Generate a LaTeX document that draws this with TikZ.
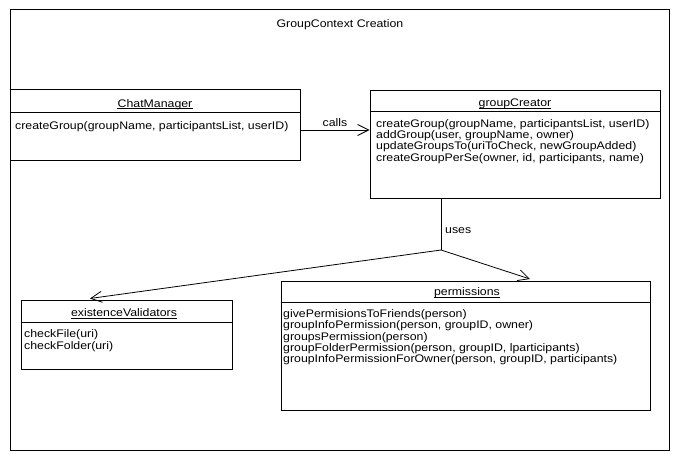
\documentclass[tikz,border=0pt]{standalone}
\usepackage{fontspec}
\setmainfont[FakeStretch=1.12]{Liberation Sans}
\usetikzlibrary{arrows.meta}
\begin{document}
\begin{tikzpicture}[x=1pt,y=-1pt,
  umlbox/.style={draw=black, line width=1pt, fill=white, inner sep=0pt, rectangle},
  txt/.style={inner sep=0pt, font=\fontsize{11}{12}\selectfont, text height=9pt, text depth=2pt},
  mtxt/.style={txt, anchor=west, yshift=-1pt},
  sep/.style={draw=black, line width=1pt},
  uline/.style={draw=black, line width=0.9pt},
  dep/.style={draw=black, line width=0.8pt, -{Straight Barb[length=11pt,width=11pt,line width=0.8pt]}},
  plain/.style={draw=black, line width=0.8pt}]
\path[use as bounding box, fill=white] (0,0) rectangle (678,460);
\node[draw=black, line width=1pt, inner sep=0pt, minimum width=659pt, minimum height=440pt] (frame) at (339.5,230) {};
\node[txt] (title) at (340,24) {GroupContext Creation};

% ChatManager
\node[umlbox, minimum width=290pt, minimum height=70pt] (chat) at (155,125) {};
\draw[sep] (chat.west |- 0,113) -- (chat.east |- 0,113);
\node[txt] (chatT) at (155,103.5) {ChatManager};
\draw[uline] ([yshift=-1.5pt]chatT.base west) -- ([yshift=-1.5pt]chatT.base east);
\node[mtxt] (chatM1) at (15,125) {createGroup(groupName, participantsList, userID)};

% groupCreator
\node[umlbox, minimum width=290pt, minimum height=107pt] (gc) at (515,144.5) {};
\draw[sep] (gc.west |- 0,112) -- (gc.east |- 0,112);
\node[txt] (gcT) at (515,103) {groupCreator};
\draw[uline] ([yshift=-1.5pt]gcT.base west) -- ([yshift=-1.5pt]gcT.base east);
\node[mtxt] (gcM1) at (376,123) {createGroup(groupName, participantsList, userID)};
\node[mtxt] (gcM2) at (376,134) {addGroup(user, groupName, owner)};
\node[mtxt] (gcM3) at (376,145.3) {updateGroupsTo(uriToCheck, newGroupAdded)};
\node[mtxt] (gcM4) at (376,156.5) {createGroupPerSe(owner, id, participants, name)};

% existenceValidators
\node[umlbox, minimum width=211pt, minimum height=69pt] (ev) at (126.5,334.5) {};
\draw[sep] (ev.west |- 0,322) -- (ev.east |- 0,322);
\node[txt] (evT) at (124,313) {existenceValidators};
\draw[uline] ([yshift=-1.5pt]evT.base west) -- ([yshift=-1.5pt]evT.base east);
\node[mtxt] (evM1) at (24,333) {checkFile(uri)};
\node[mtxt] (evM2) at (24,345) {checkFolder(uri)};

% permissions
\node[umlbox, minimum width=369pt, minimum height=129pt] (perm) at (465.5,345.5) {};
\draw[sep] (perm.west |- 0,302) -- (perm.east |- 0,302);
\node[txt] (permT) at (467,292) {permissions};
\draw[uline] ([yshift=-1.5pt]permT.base west) -- ([yshift=-1.5pt]permT.base east);
\node[mtxt] (pM1) at (283,313) {givePermisionsToFriends(person)};
\node[mtxt] (pM2) at (283,324.3) {groupInfoPermission(person, groupID, owner)};
\node[mtxt] (pM3) at (283,335.5) {groupsPermission(person)};
\node[mtxt] (pM4) at (283,346.8) {groupFolderPermission(person, groupID, lparticipants)};
\node[mtxt] (pM5) at (283,358) {groupInfoPermissionForOwner(person, groupID, participants)};

% connectors
\draw[dep] ([yshift=-5pt]chat.east) -- ([yshift=-5pt]chat.east -| gc.west);
\node[txt] (calls) at (335,122.5) {calls};
\coordinate (j) at (441,250);
\draw[plain] (j |- gc.south) -- (j);
\node[txt, anchor=west] (uses) at (445,229.5) {uses};
\draw[dep] (j) -- ([xshift=-36.5pt,yshift=1pt]ev.north);
\draw[dep] (j) -- ([xshift=64.5pt,yshift=1.5pt]perm.north);
\end{tikzpicture}
\end{document}
